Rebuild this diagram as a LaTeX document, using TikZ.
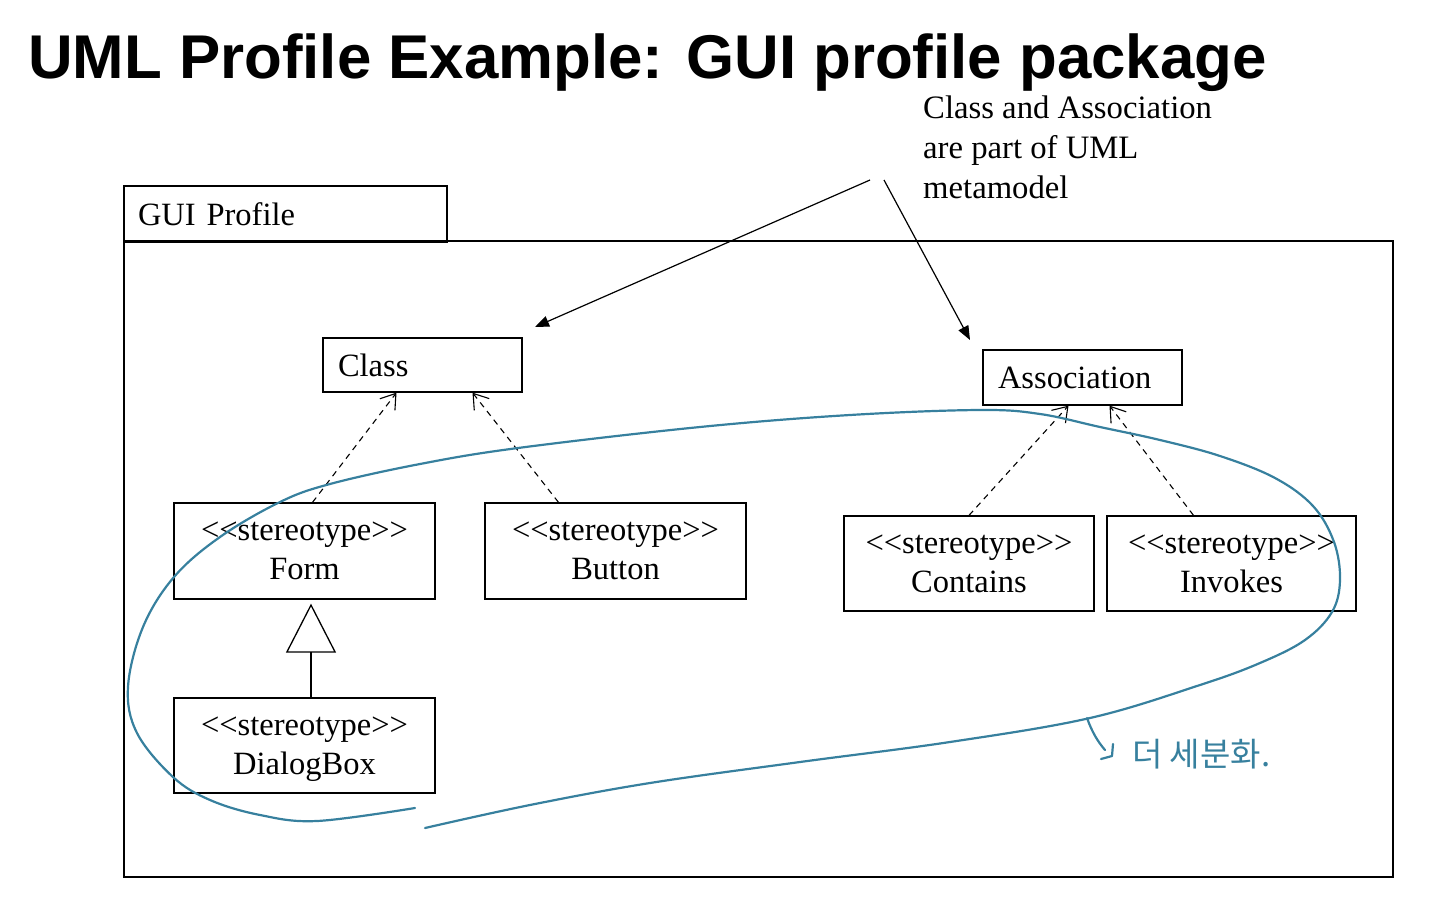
\documentclass[tikz,border=0pt]{standalone}
\usepackage{fontspec}
\setmainfont{Liberation Serif}
\newfontfamily\titlefont{Liberation Sans}
\newfontfamily\cjk{Noto Sans CJK KR}
\usetikzlibrary{arrows.meta}
\definecolor{pen}{RGB}{55,128,158}
\newcommand\stereo{<\kern0pt<stereotype>\kern0pt>}
\begin{document}
\begin{tikzpicture}[x=1pt,y=-1pt,
  box/.style={draw, line width=1.3pt, inner sep=0pt, align=center,
    font=\fontsize{32.5}{39}\selectfont},
  stbox/.style={box, text depth=-6pt},
  leftbox/.style={box, align=left, inner xsep=15pt},
  dep/.style={line width=1.1pt, dash pattern=on 6pt off 5pt,
    -{Straight Barb[length=14pt,width=19pt,line width=1.1pt]}},
  note/.style={line width=1.2pt, -{Triangle[length=14pt,width=11pt]}},
  gen/.style={line width=1.3pt, -{Triangle[open,length=49pt,width=50pt,line width=1.3pt]}},
  penline/.style={draw=pen, line width=2.2pt, line cap=round, line join=round}]
\useasboundingbox (0,0) rectangle (1440,907);

% title
\node[anchor=base west, inner sep=0pt, font=\titlefont\bfseries\fontsize{61.8}{70}\selectfont] (title) at (28,78) {UML Profile Example: GUI profile package};

% annotation
\node[anchor=north west, inner sep=0pt, align=left, font=\fontsize{32.7}{40}\selectfont] (anno) at (923,96) {Class and Association\\are part of UML\\metamodel};

% package
\node[box, minimum width=1269pt, minimum height=636pt] (body) at (758.5,559) {};
\node[leftbox, inner xsep=14pt, text width=295pt, minimum height=56pt] (tab) at (285.5,214) {GUI Profile};

% metaclasses
\node[leftbox, text width=169pt, minimum height=54pt, text depth=-3pt] (class) at (422.5,365) {Class};
\node[leftbox, text width=169pt, minimum height=55pt, text depth=-2pt] (assoc) at (1082.5,377.5) {Association};

% stereotypes
\node[stbox, minimum width=261pt, minimum height=96pt] (form) at (304.5,551) {\stereo\\Form};
\node[stbox, minimum width=261pt, minimum height=96pt] (button) at (615.5,551) {\stereo\\Button};
\node[stbox, minimum width=250pt, minimum height=95pt] (contains) at (969,563.5) {\stereo\\Contains};
\node[stbox, minimum width=249pt, minimum height=95pt] (invokes) at (1231.5,563.5) {\stereo\\Invokes};
\node[stbox, minimum width=261pt, minimum height=95pt] (dialog) at (304.5,745.5) {\stereo\\DialogBox};

% extension arrows
\draw[dep] ([xshift=8pt]form.north) -- ([xshift=-26pt]class.south);
\draw[dep] ([xshift=-57pt]button.north) -- ([xshift=50pt]class.south);
\draw[dep] (contains.north) -- ([xshift=-14pt]assoc.south);
\draw[dep] ([xshift=-38pt]invokes.north) -- ([xshift=27pt]assoc.south);

% generalization
\draw[gen, shorten >=4pt] ([xshift=6.5pt]dialog.north) -- ([xshift=6.5pt]form.south);

% annotation arrows
\coordinate (n1) at (870,180);
\coordinate (n2) at (884,180);
\coordinate (c1) at (535,327);
\coordinate (c2) at (970,340);
\draw[note] (n1) -- (c1);
\draw[note] (n2) -- (c2);

% handwritten loop
\draw[penline] plot[smooth, tension=0.6] coordinates {
 (415,808) (317,821) (260,815) (210,800) (173,777) (137,733) (128,687)
 (143,627) (174,577) (220,537) (280,502) (330,484) (420,464) (518,448)
 (700,427) (850,415) (980,410) (1040,414) (1100,427) (1160,440)
 (1220,456) (1275,478) (1313,506) (1334,542) (1340,580) (1332,612)
 (1305,640) (1260,663) (1200,685) (1090,718) (950,742)
 (800,762) (650,783) (530,805) (425,828)};
\draw[penline] (1087,718) .. controls (1092,732) and (1098,742) .. (1105,750);
\draw[penline] (1101,759) -- (1112,756) -- (1113,744);
\node[anchor=west, inner sep=0pt, text=pen, font=\cjk\fontsize{33}{33}\selectfont] (memo) at (1132,754) {더 세분화.};
\end{tikzpicture}
\end{document}
